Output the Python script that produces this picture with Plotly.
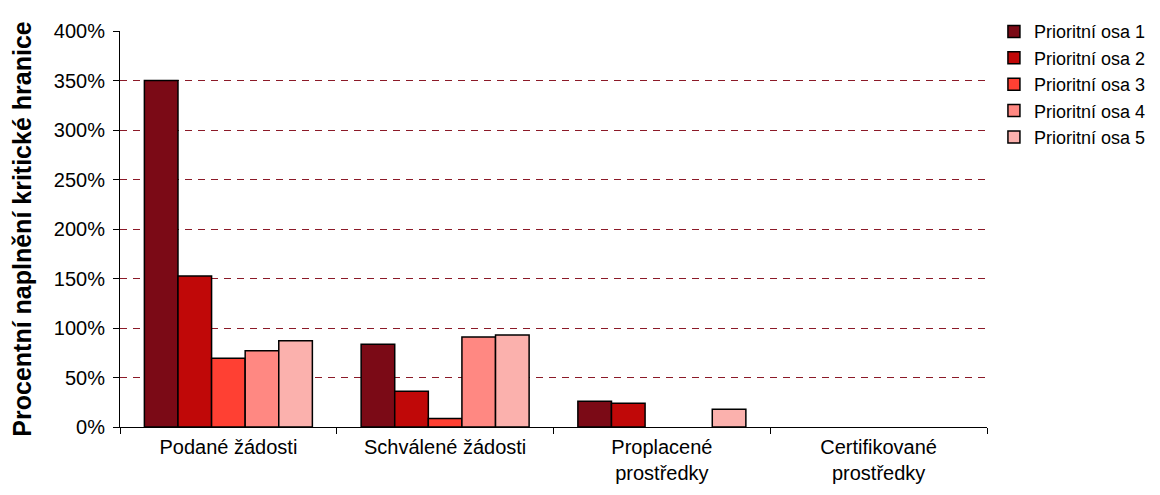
import plotly.graph_objects as go

categories = ["Podané žádosti", "Schválené žádosti", "Proplacené<br>prostředky", "Certifikované<br>prostředky"]
series_names = ["Prioritní osa 1", "Prioritní osa 2", "Prioritní osa 3", "Prioritní osa 4", "Prioritní osa 5"]
osa1 = [3.50, 0.835, 0.26, 0]
osa2 = [1.525, 0.36, 0.24, 0]
osa3 = [0.695, 0.085, 0, 0]
osa4 = [0.77, 0.91, 0, 0]
osa5 = [0.87, 0.93, 0.18, 0]
colors = ["#7B0A16", "#C00808", "#FF4033", "#FF8882", "#FBB1AD"]
y_ticks = [0, 0.5, 1, 1.5, 2, 2.5, 3, 3.5, 4]

fig = go.Figure()
for name, vals, col in zip(series_names, [osa1, osa2, osa3, osa4, osa5], colors):
    # no outline on empty bars, otherwise they show up as a thick line on the axis
    widths = [1.5 if v > 0 else 0 for v in vals]
    fig.add_trace(go.Bar(x=categories, y=vals, name=name,
                         marker=dict(color=col, line=dict(color="black", width=widths))))

# page body has an 8px margin, so the figure is a bit smaller than the window
fig.update_layout(
    width=1144, height=479,
    margin=dict(l=112, r=165, t=23, b=60, autoexpand=False),
    plot_bgcolor="white", paper_bgcolor="white",
    barmode="group", bargap=0.225, bargroupgap=0,
    font=dict(family="Liberation Sans, Arial", size=20, color="black"),
    legend=dict(x=1.008, y=1.045, xanchor="left", yanchor="top",
                font=dict(size=18), tracegroupgap=0, itemwidth=30),
)
fig.update_xaxes(showline=True, linecolor="black", linewidth=1,
                 ticks="outside", tickson="boundaries", ticklen=6, tickcolor="black",
                 showgrid=False, tickfont=dict(size=20), ticklabelstandoff=2)
fig.update_yaxes(range=[0, 4], tickvals=y_ticks, tickformat=".0%",
                 showline=True, linecolor="black", linewidth=1,
                 ticks="outside", ticklen=6, tickcolor="black",
                 showgrid=True, gridcolor="#8B1A28", griddash="7px,6px", gridwidth=1,
                 zeroline=False, tickfont=dict(size=20), ticklabelstandoff=4,
                 title=dict(text="<b>Procentní naplnění kritické hranice</b>", font=dict(size=25), standoff=18))

fig.write_html("out.html")
